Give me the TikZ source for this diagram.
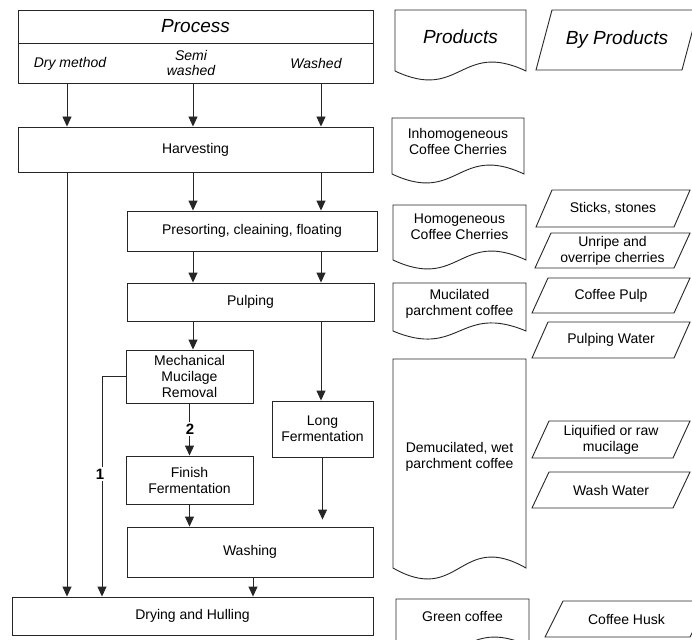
\documentclass[tikz,border=0pt]{standalone}
\usepackage{fontspec}
\setmainfont{Liberation Sans}
\usetikzlibrary{arrows.meta}
\newcommand\mybox[6]{\node[txt, ln, minimum width={#3pt-#2pt}, minimum height={#5pt-#4pt}] (#1) at ({(#2+#3)/2},{(#4+#5)/2}) {#6};}
\newcommand\mydoc[8]{%
  \draw[ln, fill=white] (#2,#4) -- (#3,#4) -- (#3,#5) .. controls ({(#2+#3)/2},{#5-#6}) and ({(#2+#3)/2},{#5+#6}) .. (#2,#5) -- cycle;
  \node[txt] (#1) at ({(#2+#3)/2},#7) {#8};}
\newcommand\mypar[7]{%
  \draw[ln] (#2,#4) -- ({#2+#6},#3) -- ({#2+#6+#5},#3) -- ({#2+#5},#4) -- cycle;
  \node[txt] (#1) at ({#2+(#5+#6)/2},{(#3+#4)/2}) {#7};}
\begin{document}
\begin{tikzpicture}[x=1pt,y=-1pt,
  ln/.style={draw=black!85, line width=0.9pt},
  arr/.style={ln, -{Triangle[length=10pt,width=9pt]}},
  txt/.style={font=\fontsize{14}{16}\selectfont, align=center, inner sep=0pt},
  itxt/.style={font=\fontsize{14}{15}\selectfont\itshape, align=center, inner sep=0pt},
  num/.style={font=\fontsize{15}{16}\selectfont\bfseries, fill=white, inner sep=2pt},
]
\useasboundingbox (0,0) rectangle (692,639);
\fill[white] (0,0) rectangle (692,639);
\clip (0,0) rectangle (692,639);

% columns
\coordinate (cA) at (67,0);
\coordinate (cB) at (193,0);
\coordinate (cC) at (321,0);
\coordinate (cD) at (102,0);
\coordinate (cE) at (253,0);

% process header
\mybox{ptitle}{18}{373}{10}{43}{\fontsize{19}{22}\selectfont\itshape Process}
\mybox{psub}{18}{373}{43}{83}{}
\node[itxt] (dm) at (70,64) {Dry method};
\node[itxt] (sw) at (191,63) {Semi\\washed};
\node[itxt] (wa) at (316,64) {Washed};

% process boxes
\mybox{harv}{18}{373}{127}{172}{Harvesting}
\mybox{pres}{127}{377}{211}{251}{Presorting, cleaining, floating}
\mybox{pulp}{127}{374}{283}{321}{Pulping}
\mybox{mech}{126}{253}{350}{403}{Mechanical\\Mucilage\\Removal}
\mybox{longf}{272}{373}{401}{457}{Long\\Fermentation}
\mybox{finf}{126}{253}{456}{504}{Finish\\Fermentation}
\mybox{wash}{127}{373}{527}{577}{Washing}
\mybox{dry}{12}{373}{597}{635}{Drying and Hulling}

% connectors
\draw[arr] (psub.south -| cA) -- (harv.north -| cA);
\draw[arr] (psub.south -| cB) -- (harv.north -| cB);
\draw[arr] (psub.south -| cC) -- (harv.north -| cC);
\draw[arr] (harv.south -| cA) -- (dry.north -| cA);
\draw[arr] (harv.south -| cB) -- (pres.north -| cB);
\draw[arr] (harv.south -| cC) -- (pres.north -| cC);
\draw[arr] (pres.south -| cB) -- (pulp.north -| cB);
\draw[arr] (pres.south -| cC) -- (pulp.north -| cC);
\draw[arr] (pulp.south -| cB) -- (mech.north -| cB);
\draw[arr] (pulp.south -| cC) -- (longf.north -| cC);
\draw[arr] (mech.west) -| (dry.north -| cD);
\draw[arr] (mech) -- (finf);
\draw[arr] (finf.south) -- (finf.south |- wash.north);
\draw[arr, shorten >=7pt] (longf.south) -- (longf.south |- wash.north);
\draw[arr] (wash.south -| cE) -- (dry.north -| cE);
\node[num] (n1) at (100,474) {1};
\node[num] (n2) at (190,429) {2};

% products (documents)
\mydoc{prd}{395}{526}{10}{71}{31}{37}{\fontsize{19}{22}\selectfont\itshape Products}
\mydoc{inh}{392}{524}{118}{174}{31}{141}{Inhomogeneous\\Coffee Cherries}
\mydoc{hom}{393}{526}{205}{260}{31}{227}{Homogeneous\\Coffee Cherries}
\mydoc{muc}{393}{526}{283}{331}{28}{304}{Mucilated\\parchment coffee}
\mydoc{dem}{393}{526}{359}{568}{38}{457}{Demucilated, wet\\parchment coffee}
\mydoc{grn}{396}{529}{599}{646}{31}{616}{Green coffee}

% by products (parallelograms)
\mypar{byp}{536}{10}{70}{146}{16}{\fontsize{19}{22}\selectfont\itshape By Products}
\mypar{stk}{536}{190}{227}{138}{16}{Sticks, stones}
\mypar{unr}{535}{233}{268}{139}{16}{Unripe and\\overripe cherries}
\mypar{cpl}{532}{278}{313}{142}{16}{Coffee Pulp}
\mypar{pwt}{532}{322}{358}{142}{16}{Pulping Water}
\mypar{liq}{532}{421}{458}{141}{17}{Liquified or raw\\mucilage}
\mypar{wwt}{532}{472}{508}{141}{17}{Wash Water}
\mypar{hsk}{545}{601}{637}{145}{18}{Coffee Husk}
\end{tikzpicture}
\end{document}
